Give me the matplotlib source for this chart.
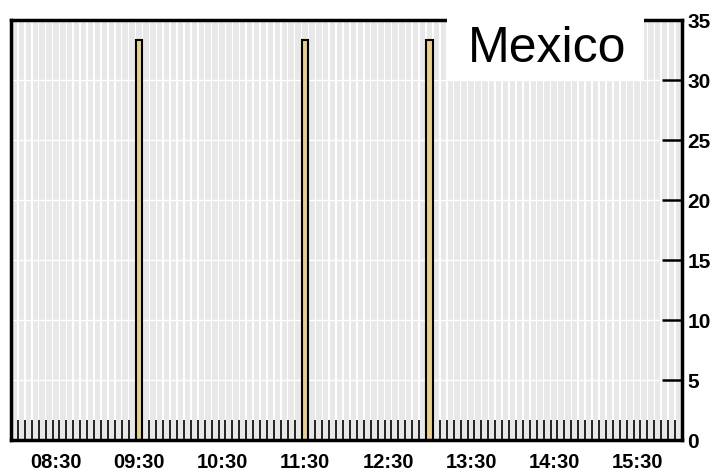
import numpy as np
import matplotlib
matplotlib.use("Agg")
import matplotlib.pyplot as plt
from matplotlib.patches import Rectangle

plt.rcParams['font.family'] = ['Liberation Sans', 'DejaVu Sans']

# time slots (minutes after midnight), 5-minute bins 08:00..16:00
slot_start = 8 * 60
slot_end = 16 * 60
slot_step = 5
bar_times = ['09:30', '11:30', '13:00']
bar_values = [33.3, 33.3, 33.3]
tick_labels = ['08:30', '09:30', '10:30', '11:30', '12:30', '13:30', '14:30', '15:30']
title = 'Mexico'
ymax = 35


def to_min(s):
    h, m = s.split(':')
    return int(h) * 60 + int(m)


slots = np.arange(slot_start, slot_end + 1, slot_step)
bx = [to_min(t) for t in bar_times]

fig = plt.figure(figsize=(7.14, 4.73), dpi=100)
ax = fig.add_axes([11 / 714, 1 - 440 / 473, (682 - 11) / 714, (440 - 20) / 473])

# grey background stripes
ax.bar(slots, ymax, width=slot_step * 0.78, color='#e8e8e8', zorder=0.1, linewidth=0)
ax.set_axisbelow(True)
ax.yaxis.grid(True, color='white', linewidth=1.0)

ax.bar(bx, bar_values, width=slot_step, color='#e6cf8f', edgecolor='black',
       linewidth=1.5, zorder=2)

ax.set_xlim(slot_start - slot_step / 2, slot_end + slot_step / 2)
ax.set_ylim(0, ymax)

ax.set_xticks([to_min(t) for t in tick_labels])
ax.set_xticklabels(tick_labels, fontsize=14.5, fontweight='bold')
ax.set_xticks(np.arange(slot_start - slot_step / 2, slot_end + slot_step, slot_step), minor=True)
ax.tick_params(axis='x', which='major', length=0, pad=9)
ax.tick_params(axis='x', which='minor', direction='in', length=14.5, width=1.4, color='#222222')

ax.yaxis.tick_right()
ax.set_yticks(np.arange(0, ymax + 1, 5))
ax.tick_params(axis='y', direction='in', length=14.5, width=1.8, pad=4,
               labelsize=15, right=True, left=False)
for lab in ax.get_yticklabels():
    lab.set_fontweight('bold')

for s in ['left', 'right', 'top', 'bottom']:
    ax.spines[s].set_linewidth(2.5)
    ax.spines[s].set_color('black')

# title box over top-right corner
fig.patches.append(Rectangle((447 / 714, 1 - 81 / 473), (644 - 447) / 714, 81 / 473,
                             transform=fig.transFigure, facecolor='white',
                             edgecolor='none', zorder=5))
fig.text(547 / 714, 1 - 62 / 473, title, fontsize=36, ha='center', va='baseline', zorder=6)

fig.savefig('out.png', dpi=100)
